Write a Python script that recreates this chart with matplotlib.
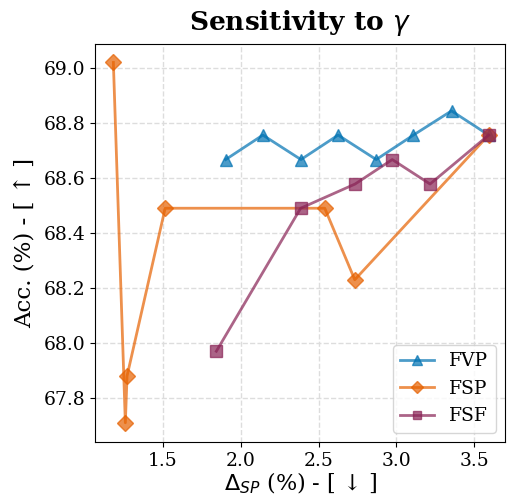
import matplotlib
matplotlib.use("Agg")
import matplotlib.pyplot as plt

plt.rcParams["font.family"] = ["DejaVu Serif", "DejaVu Sans"]

# FVP
fvp_x = [1.903, 2.142, 2.387, 2.626, 2.871, 3.110, 3.355, 3.594]
fvp_y = [68.667, 68.756, 68.667, 68.756, 68.667, 68.756, 68.844, 68.756]

# FSP
fsp_x = [1.181, 1.258, 1.269, 1.514, 2.540, 2.733, 3.594]
fsp_y = [69.02, 67.71, 67.88, 68.49, 68.49, 68.23, 68.756]

# FSF
fsf_x = [1.843, 2.385, 2.735, 2.974, 3.217, 3.594]
fsf_y = [67.97, 68.49, 68.578, 68.667, 68.578, 68.756]

fig = plt.figure(figsize=(5.07, 4.99), dpi=100)
ax = fig.add_axes([0.1874, 0.1142, 0.8087, 0.797])

ax.plot(fvp_x, fvp_y, marker="^", markersize=9, linewidth=2, color="#0072B2", alpha=0.7, label="FVP")
ax.plot(fsp_x, fsp_y, marker="D", markersize=8, linewidth=2, color="#E66100", alpha=0.7, label="FSP")
ax.plot(fsf_x, fsf_y, marker="s", markersize=8, linewidth=2, color="#882255", alpha=0.7, label="FSF")

ax.set_xlim(1.063, 3.699)
ax.set_ylim(67.64, 69.086)
ax.set_xticks([1.5, 2.0, 2.5, 3.0, 3.5])
ax.set_yticks([67.8, 68.0, 68.2, 68.4, 68.6, 68.8, 69.0])
ax.tick_params(labelsize=13.5)
ax.grid(True, linestyle="--", color="#dddddd", linewidth=1)

ax.set_title(r"Sensitivity to $\gamma$", fontsize=19, fontweight="bold", pad=10)
ax.set_xlabel(r"$\Delta_{SP}$ (%) - [ ↓ ]", fontsize=16, labelpad=1)
ax.set_ylabel("Acc. (%) - [ ↑ ]", fontsize=16.5, labelpad=6)
ax.legend(loc="lower right", fontsize=13.5, markerscale=0.8, handlelength=1.8)

fig.savefig("out.png", dpi=100)
